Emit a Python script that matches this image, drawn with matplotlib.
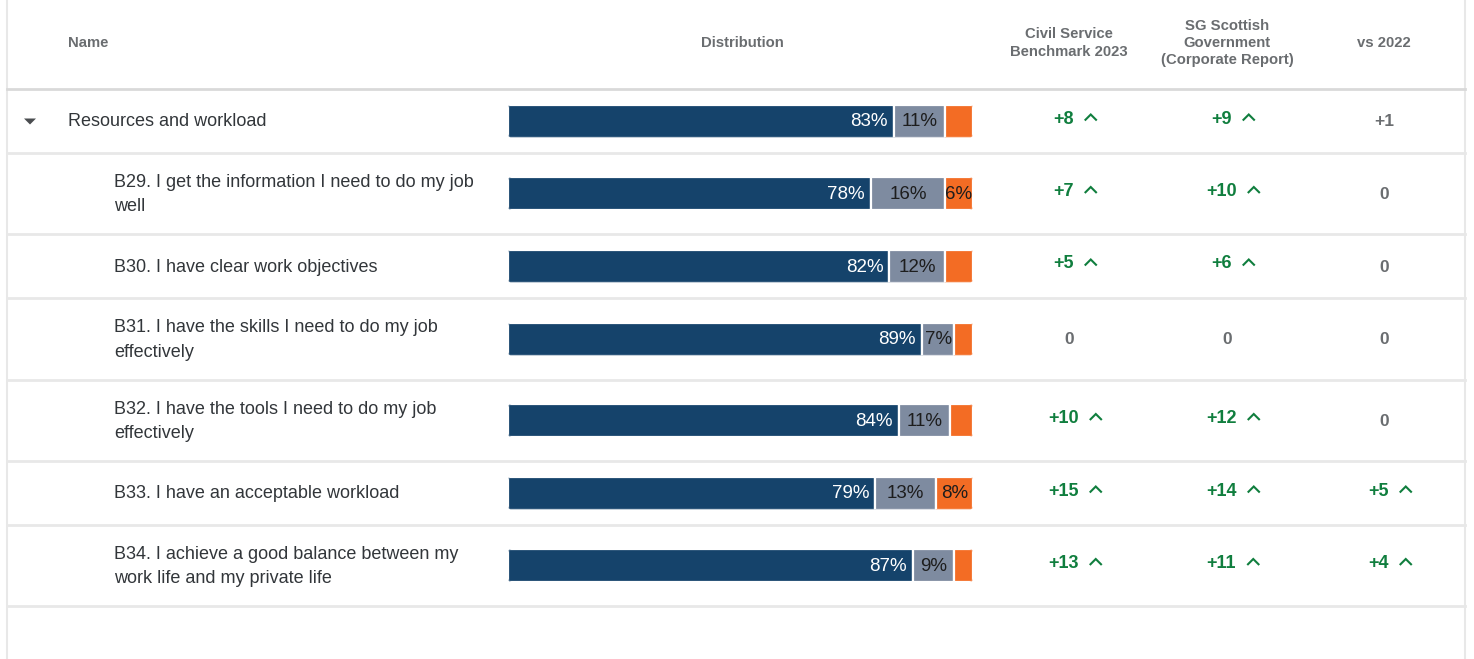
import matplotlib
matplotlib.use("Agg")
import matplotlib.pyplot as plt
from matplotlib.patches import FancyBboxPatch, Polygon

plt.rcParams['font.family'] = ['Liberation Sans', 'DejaVu Sans']

# ---- data ----
names = [
    "Resources and workload",
    "B29. I get the information I need to do my job\nwell",
    "B30. I have clear work objectives",
    "B31. I have the skills I need to do my job\neffectively",
    "B32. I have the tools I need to do my job\neffectively",
    "B33. I have an acceptable workload",
    "B34. I achieve a good balance between my\nwork life and my private life",
]
positive = [83, 78, 82, 89, 84, 79, 87]
neutral = [11, 16, 12, 7, 11, 13, 9]
negative = [5, 6, 5, 4, 5, 8, 4]

civil_2023 = [8, 7, 5, 0, 10, 15, 13]
civil_sig = [True, True, True, False, True, True, True]
sg_corporate = [9, 10, 6, 0, 12, 14, 11]
sg_sig = [True, True, True, False, True, True, True]
vs_2022 = [1, 0, 0, 0, 0, 5, 4]
vs_sig = [False, False, False, False, False, True, True]

headers = ["Name", "Distribution", "Civil Service\nBenchmark 2023",
           "SG Scottish\nGovernment\n(Corporate Report)", "vs 2022"]

# ---- styling ----
W, H = 1474, 659
C_POS, C_NEU, C_NEG = "#15436b", "#7e8ba0", "#f36c24"
C_GREEN, C_GREY, C_TEXT, C_HEAD = "#107e3e", "#6a6d70", "#32363a", "#6a6d70"
C_RULE = "#e8e8e8"

fig = plt.figure(figsize=(W / 100, H / 100), dpi=100)
ax = fig.add_axes([0, 0, 1, 1])
ax.set_xlim(0, W)
ax.set_ylim(H, 0)
ax.axis("off")

left_edge, right_edge = 7, 1465
header_bottom = 89
row_heights = [64, 81, 64, 82, 81, 64, 81]
tops = [header_bottom]
for h in row_heights:
    tops.append(tops[-1] + h)
centers = [(tops[i] + tops[i + 1]) / 2 for i in range(len(row_heights))]

# frame and row rules
ax.plot([left_edge, left_edge], [0, H], color=C_RULE, lw=1.5)
ax.plot([right_edge, right_edge], [0, H], color=C_RULE, lw=1.5)
ax.plot([left_edge, right_edge], [header_bottom, header_bottom], color="#d9d9d9", lw=2)
for y in tops[1:]:
    ax.plot([left_edge, right_edge], [y, y], color=C_RULE, lw=2)

# header
col_x = [68, 742, 1069, 1227, 1384]
head_kw = dict(fontsize=10.7, fontweight="bold", color=C_HEAD, va="center", linespacing=1.3)
ax.text(col_x[0], 43, headers[0], ha="left", **head_kw)
for x, t in zip(col_x[1:], headers[1:]):
    ax.text(x, 43, t, ha="center", **head_kw)

# names
for i, (nm, cy) in enumerate(zip(names, centers)):
    x = 68 if i == 0 else 114
    ax.text(x, cy + 1, nm, ha="left", va="center", fontsize=13, color=C_TEXT, linespacing=1.58)
# collapse marker on the group row
ax.add_patch(Polygon([[24, centers[0] - 2.5], [36, centers[0] - 2.5], [30, centers[0] + 3.5]],
                     closed=True, color="#4a4d50", lw=0))

# ---- distribution bars ----
bx = fig.add_axes([508 / W, 0, 465 / W, 1])
bx.set_xlim(0, 100)
bx.set_ylim(H, 0)
bx.axis("off")
bx.patch.set_alpha(0)

bar_h = 33
px_per_unit = 465 / 100
for cy, p, n, g in zip(centers, positive, neutral, negative):
    clip = FancyBboxPatch((0, cy - bar_h / 2), 100, bar_h,
                          boxstyle="round,pad=0,rounding_size=0.8",
                          mutation_aspect=px_per_unit,
                          transform=bx.transData, facecolor="none", edgecolor="none")
    bx.add_patch(clip)
    rest = 100 - p - n
    segs = bx.barh([cy] * 3, [p, n, rest], left=[0, p, p + n], height=bar_h,
                   color=[C_POS, C_NEU, C_NEG], edgecolor="white", linewidth=1.6)
    for s in segs:
        s.set_clip_path(clip)
    bx.text(p - 1.3, cy + 1, f"{p}%", ha="right", va="center", fontsize=13.5, color="white")
    bx.text(p + n / 2, cy + 1, f"{n}%", ha="center", va="center", fontsize=13.5, color="#1d1d1d")
    if g >= 6:
        bx.text(p + n + rest / 2, cy + 1, f"{g}%", ha="center", va="center",
                fontsize=13.5, color="#1d1d1d")

# ---- comparison columns ----
fig.canvas.draw()
renderer = fig.canvas.get_renderer()


def delta_cell(xc, cy, value, significant):
    label = f"+{value}" if value > 0 else f"{value}"
    color = C_GREEN if significant else C_GREY
    if not significant:
        ax.text(xc, cy + 1, label, ha="center", va="center", fontsize=12.5,
                fontweight="bold", color=color)
        return
    t = ax.text(0, cy, label, ha="left", va="center", fontsize=13,
                fontweight="bold", color=color)
    bb = t.get_window_extent(renderer)
    tw = bb.width
    gap, cw = 11, 12
    start = xc + 6 - (tw + gap + cw) / 2
    t.set_x(start)
    cx = start + tw + gap
    ax.plot([cx, cx + cw / 2, cx + cw], [cy + 1.5, cy - 4.5, cy + 1.5],
            color=color, lw=1.5, solid_capstyle="butt", solid_joinstyle="miter")


for cy, a, asig, b, bsig, c, csig in zip(centers, civil_2023, civil_sig, sg_corporate,
                                         sg_sig, vs_2022, vs_sig):
    delta_cell(col_x[2], cy - 2 if asig else cy, a, asig)
    delta_cell(col_x[3], cy - 2 if bsig else cy, b, bsig)
    delta_cell(col_x[4], cy - 2 if csig else cy, c, csig)

fig.savefig("out.png", dpi=100, facecolor="white")
